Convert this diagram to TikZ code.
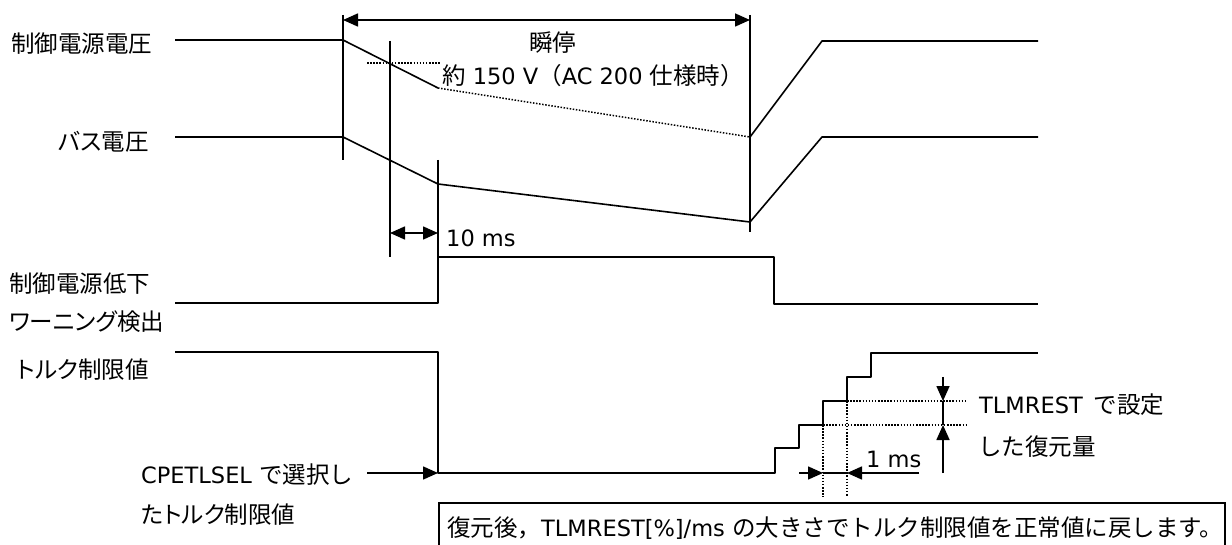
\documentclass[tikz,border=0pt]{standalone}
\usepackage{fontspec}
\setmainfont{DejaVu Sans}
\newfontfamily\jp[Scale=1.0444]{Noto Sans CJK JP}
\newfontfamily\jpp[Scale=1.0444,RawFeature=+palt]{Noto Sans CJK JP}
\usetikzlibrary{arrows.meta}
\begin{document}
\begin{tikzpicture}[x=1pt,y=-1pt,
  sig/.style={line width=1.6pt, line join=round},
  dotln/.style={line width=1.5pt, dash pattern=on 1.5pt off 1.6pt},
  tip/.style={-{Triangle[length=15pt,width=13pt]}},
  twotip/.style={{Triangle[length=15pt,width=13pt]}-{Triangle[length=15pt,width=13pt]}},
  lbl/.style={inner sep=0pt, font=\fontsize{22.5}{26}\selectfont},
]
\useasboundingbox (0,0) rectangle (1232,545);

% --- coordinates
\coordinate (tL) at (343,20);
\coordinate (tR) at (750,20);
\coordinate (mA) at (390,233);
\coordinate (mB) at (438,233);

% --- vertical marker lines
\draw[sig] (343,15) -- (343,160);
\draw[sig] (390,41) -- (390,257);
\draw[sig] (438,160) -- (438,303);
\draw[sig] (750,15) -- (750,232);

% --- dimension arrows
\draw[sig,twotip] (tL) -- (tR);
\draw[sig,twotip] (mA) -- (mB);

% --- control power supply voltage
\draw[sig] (175,40) -- (343,40) -- (438,88);
\draw[dotln] (438,88) -- (750,137);
\draw[sig] (750,137) -- (822,41) -- (1038,41);
\draw[dotln] (367,63) -- (440,63);

% --- bus voltage
\draw[sig] (175,137) -- (343,137) -- (438,184) -- (750,222) -- (822,137) -- (1038,137);

% --- warning pulse
\draw[sig] (175,303) -- (438,303) -- (438,257) -- (774,257) -- (774,304) -- (1038,304);

% --- torque limit
\draw[sig] (175,352) -- (438,352) -- (438,473) -- (775,473) -- (775,448) -- (799,448)
  -- (799,425) -- (823,425) -- (823,401) -- (847,401) -- (847,377) -- (871,377)
  -- (871,353) -- (1038,353);

% --- restore detail
\draw[dotln] (823,425) -- (967,425);
\draw[dotln] (847,401) -- (967,401);
\draw[dotln] (823,425) -- (823,497);
\draw[dotln] (847,401) -- (847,497);
\coordinate (ma) at (823,473);
\coordinate (mb) at (847,473);
\draw[sig,tip] (799,473) -- (ma);
\draw[sig] (ma) -- (mb);
\draw[sig,tip] (919,473) -- (mb);
\coordinate (va) at (943,401);
\coordinate (vb) at (943,425);
\draw[sig,tip] (943,377) -- (va);
\draw[sig] (va) -- (vb);
\draw[sig,tip] (943,473) -- (vb);

% --- CPETLSEL arrow
\coordinate (cp) at (438,473);
\draw[sig,tip] (367,473) -- (cp);

% --- note box
\draw[line width=1.3pt] (439,548) -- (439,503) -- (1225,503) -- (1225,548);

% --- labels
\node[lbl,anchor=base west] (l1) at (11,53) {\jp 制御電源電圧};
\node[lbl,anchor=base east] (l2) at (149,151) {\jpp バス電圧};
\node[lbl,anchor=base west] (l3) at (9,293) {\jp 制御電源低下};
\node[lbl,anchor=base west] (l4) at (9,331) {\jpp ワーニング検出};
\node[lbl,anchor=base east] (l5) at (149,378) {\jpp トルク制限値};
\node[lbl,anchor=base west] (l6) at (141,483) {CPETLSEL {\jp で選択し}};
\node[lbl,anchor=base west] (l7) at (141,523) {\jpp たトルク制限値};
\node[lbl,anchor=base west] (t1) at (529,52) {\jp 瞬停};
\node[lbl,anchor=base west] (t2) at (442,85) {{\jp 約} 150 V{\jp （}AC 200 {\jp 仕様時）}};
\node[lbl,anchor=base west] (t3) at (446,247) {10 ms};
\node[lbl,anchor=base west] (t4) at (866,467) {1 ms};
\node[lbl,anchor=base west] (t5) at (979,413) {TLMREST\hspace{4pt} {\jp で設定}};
\node[lbl,anchor=base west] (t6) at (978,455) {\jp した復元量};
\node[lbl,anchor=base west] (t7) at (447,536) {{\jp 復元後，}TLMREST[\%]/ms {\jp の大きさでトルク制限値を正常値に戻します。}};
\end{tikzpicture}
\end{document}
